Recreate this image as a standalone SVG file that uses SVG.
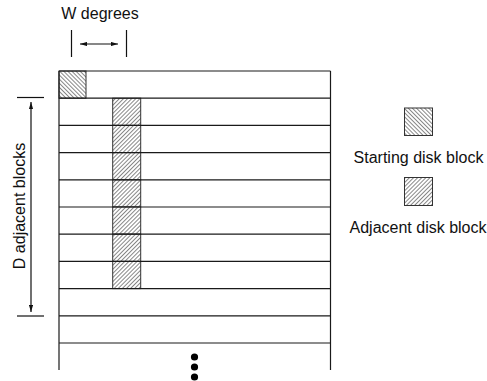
<svg xmlns="http://www.w3.org/2000/svg" width="487" height="381" viewBox="0 0 487 381">
  <style>
    .grid { fill: none; stroke: #1a1a1a; stroke-width: 1.2; }
    .cell { stroke: #333; stroke-width: 1; }
    .start { fill: url(#hatchBack); }
    .adj { fill: url(#hatchFwd); }
    .dim { fill: none; stroke: #111; stroke-width: 1.2; }
    .lbl { font-family: "Liberation Sans", Arial, sans-serif; font-size: 16px; fill: #111; }
  </style>
  <defs>
    <!-- "\" hatching for the starting block -->
    <pattern id="hatchBack" patternUnits="userSpaceOnUse" width="2.9" height="10" patternTransform="rotate(-45)">
      <rect width="2.9" height="10" fill="#fff"/>
      <line x1="0.5" y1="0" x2="0.5" y2="10" stroke="#666" stroke-width="0.8"/>
    </pattern>
    <!-- "/" hatching for adjacent blocks -->
    <pattern id="hatchFwd" patternUnits="userSpaceOnUse" width="2.9" height="10" patternTransform="rotate(45)">
      <rect width="2.9" height="10" fill="#fff"/>
      <line x1="0.5" y1="0" x2="0.5" y2="10" stroke="#666" stroke-width="0.8"/>
    </pattern>
    <marker id="arrowHead" viewBox="0 0 10 6" refX="10" refY="3" markerWidth="7" markerHeight="4.2" markerUnits="userSpaceOnUse" orient="auto-start-reverse">
      <path d="M0,0 L10,3 L0,6 Z" fill="#111"/>
    </marker>
  </defs>

  <rect width="487" height="381" fill="#fff"/>

  <!-- starting disk block, top-left cell of the first row -->
  <g id="starting-block">
    <rect class="cell start" x="59" y="71" width="27" height="27.2"/>
  </g>

  <!-- column of adjacent disk blocks -->
  <g id="adjacent-blocks">
    <rect class="cell adj" x="112.7" y="98.2" width="28" height="27.2"/>
    <rect class="cell adj" x="112.7" y="125.4" width="28" height="27.2"/>
    <rect class="cell adj" x="112.7" y="152.6" width="28" height="27.2"/>
    <rect class="cell adj" x="112.7" y="179.8" width="28" height="27.2"/>
    <rect class="cell adj" x="112.7" y="207" width="28" height="27.2"/>
    <rect class="cell adj" x="112.7" y="234.2" width="28" height="27.2"/>
    <rect class="cell adj" x="112.7" y="261.4" width="28" height="27.2"/>
  </g>

  <!-- disk track grid -->
  <g id="track-grid" class="grid">
    <line x1="59" y1="71" x2="59" y2="370"/>
    <line x1="330.5" y1="71" x2="330.5" y2="370"/>
    <line x1="59" y1="71" x2="330.5" y2="71"/>
    <line x1="59" y1="98.2" x2="330.5" y2="98.2"/>
    <line x1="59" y1="125.4" x2="330.5" y2="125.4"/>
    <line x1="59" y1="152.6" x2="330.5" y2="152.6"/>
    <line x1="59" y1="179.8" x2="330.5" y2="179.8"/>
    <line x1="59" y1="207" x2="330.5" y2="207"/>
    <line x1="59" y1="234.2" x2="330.5" y2="234.2"/>
    <line x1="59" y1="261.4" x2="330.5" y2="261.4"/>
    <line x1="59" y1="288.6" x2="330.5" y2="288.6"/>
    <line x1="59" y1="315.8" x2="330.5" y2="315.8"/>
    <line x1="59" y1="343" x2="330.5" y2="343"/>
  </g>

  <!-- continuation dots -->
  <g id="continuation" fill="#000">
    <circle cx="194.5" cy="357" r="3.6"/>
    <circle cx="194.5" cy="367" r="3.6"/>
    <circle cx="194.5" cy="377" r="3.6"/>
  </g>

  <!-- dimension markers -->
  <g id="connectors">
    <g id="w-dimension" class="dim">
      <line x1="71.5" y1="30" x2="71.5" y2="57"/>
      <line x1="126.5" y1="30" x2="126.5" y2="57"/>
      <line x1="80" y1="44" x2="118" y2="44" marker-start="url(#arrowHead)" marker-end="url(#arrowHead)"/>
    </g>
    <g id="d-dimension" class="dim">
      <line x1="17" y1="97.5" x2="44" y2="97.5"/>
      <line x1="17" y1="316" x2="44" y2="316"/>
      <line x1="31" y1="102" x2="31" y2="312" marker-start="url(#arrowHead)" marker-end="url(#arrowHead)"/>
    </g>
  </g>

  <g id="w-label">
    <text class="lbl" x="100" y="19" text-anchor="middle">W degrees</text>
  </g>
  <g id="d-label">
    <text class="lbl" transform="translate(25,206) rotate(-90)" text-anchor="middle">D adjacent blocks</text>
  </g>

  <!-- legend -->
  <g id="legend-starting">
    <rect class="cell start" x="404.5" y="108" width="28" height="27.5"/>
    <text class="lbl" x="418.5" y="163" text-anchor="middle">Starting disk block</text>
  </g>
  <g id="legend-adjacent">
    <rect class="cell adj" x="404.5" y="177.5" width="28" height="28"/>
    <text class="lbl" x="418" y="233" text-anchor="middle">Adjacent disk block</text>
  </g>
</svg>
